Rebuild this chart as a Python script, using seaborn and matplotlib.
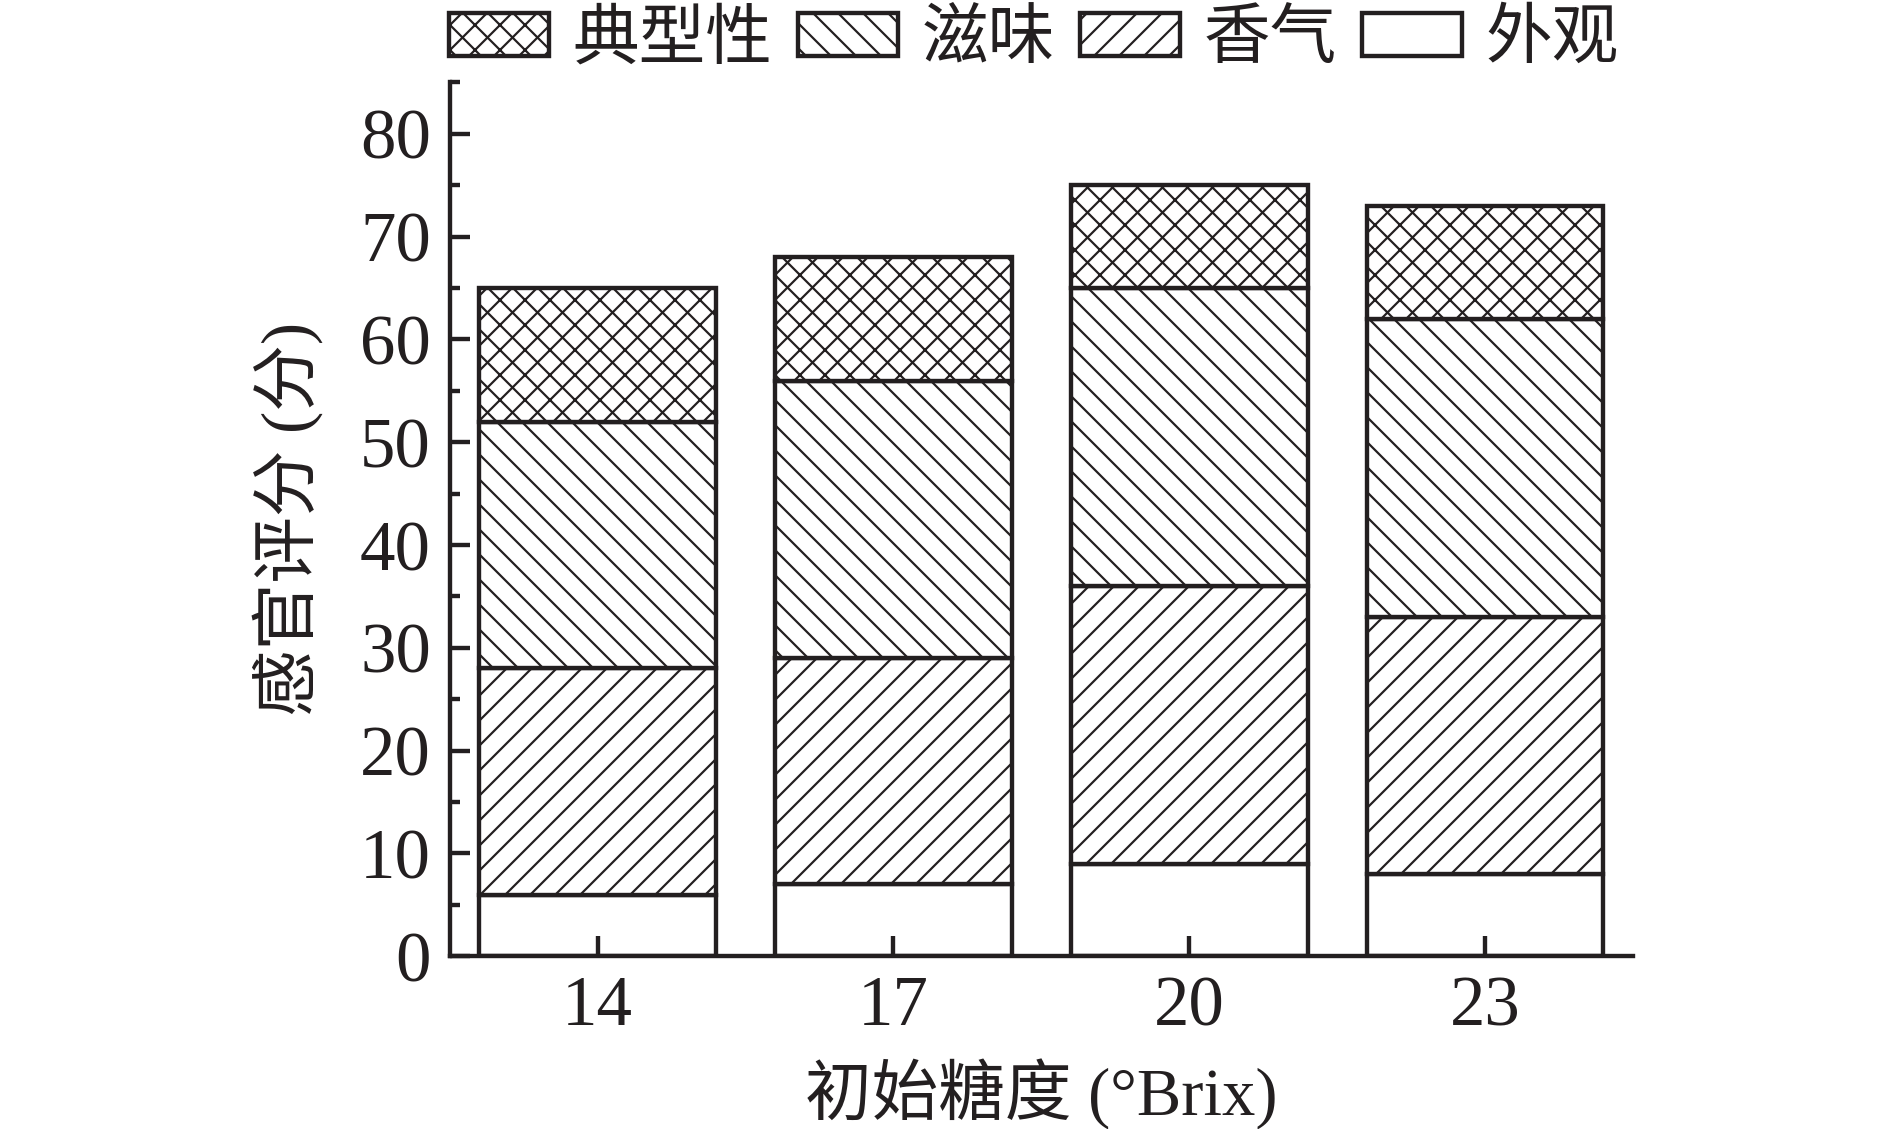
import pandas as pd
import seaborn as sns
import matplotlib.pyplot as plt
from matplotlib.patches import Patch
from matplotlib.ticker import MultipleLocator

# data (stacked sensory scores)
brix = ['14', '17', '20', '23']
appearance = [6, 7, 9, 8]       # 外观
aroma = [22, 22, 27, 25]        # 香气
taste = [24, 27, 29, 29]        # 滋味
typicality = [13, 12, 10, 11]   # 典型性

layer_names = ['外观', '香气', '滋味', '典型性']
layer_hatches = ['', '//', '\\\\', 'xx']

INK = '#231f20'


def main():
    sns.set_style('ticks')
    plt.rcParams['font.family'] = ['Liberation Serif', 'Noto Sans CJK SC']
    plt.rcParams['hatch.linewidth'] = 1.05
    plt.rcParams['hatch.color'] = INK
    plt.rcParams['axes.unicode_minus'] = False

    df = pd.DataFrame({'brix': brix,
                       '外观': appearance,
                       '香气': aroma,
                       '滋味': taste,
                       '典型性': typicality})

    fig = plt.figure(figsize=(12.6, 7.5267), dpi=150)
    ax = fig.add_axes([0.238, 0.153, 0.626, 0.774])

    bottom = [0] * len(brix)
    for name, hatch in zip(layer_names, layer_hatches):
        sns.barplot(data=df, x='brix', y=name, bottom=bottom, color='white',
                    edgecolor=INK, linewidth=2.1, hatch=hatch, width=0.8,
                    saturation=1, ax=ax)
        bottom = [b + v for b, v in zip(bottom, df[name])]

    # axes formatting
    ax.set_axisbelow(False)  # x ticks sit on top of the bars
    ax.set_xlim(-0.5, 3.5)
    ax.set_ylim(0, 85)
    ax.yaxis.set_major_locator(MultipleLocator(10))
    ax.yaxis.set_minor_locator(MultipleLocator(5))
    ax.set_yticks(range(0, 81, 10))
    sns.despine(ax=ax)
    for side in ['left', 'bottom']:
        ax.spines[side].set_linewidth(2.1)
        ax.spines[side].set_color(INK)
    ax.tick_params(axis='both', which='major', direction='in', length=9.5,
                   width=2.1, color=INK, labelsize=34, labelcolor=INK, pad=9)
    ax.tick_params(axis='y', which='minor', direction='in', length=5,
                   width=2.1, color=INK)

    ax.set_xlabel('初始糖度 (°Brix)', fontsize=32, color=INK)
    ax.set_ylabel('感官评分 (分)', fontsize=32, color=INK)
    ax.xaxis.set_label_coords(0.5, -0.117)
    ax.yaxis.set_label_coords(-0.107, 0.5)

    handles = [Patch(facecolor='white', edgecolor=INK, linewidth=2.1, hatch=h, label=n)
               for n, h in zip(layer_names[::-1], layer_hatches[::-1])]
    fig.legend(handles=handles, loc='upper center', bbox_to_anchor=(0.547, 1.032),
               ncol=4, frameon=False, fontsize=32, handlelength=1.5, handleheight=0.62,
               handletextpad=0.35, columnspacing=0.38, borderpad=0.2,
               labelcolor=INK)

    fig.savefig('out.png', dpi=150, facecolor='white')


if __name__ == "__main__":
    main()
